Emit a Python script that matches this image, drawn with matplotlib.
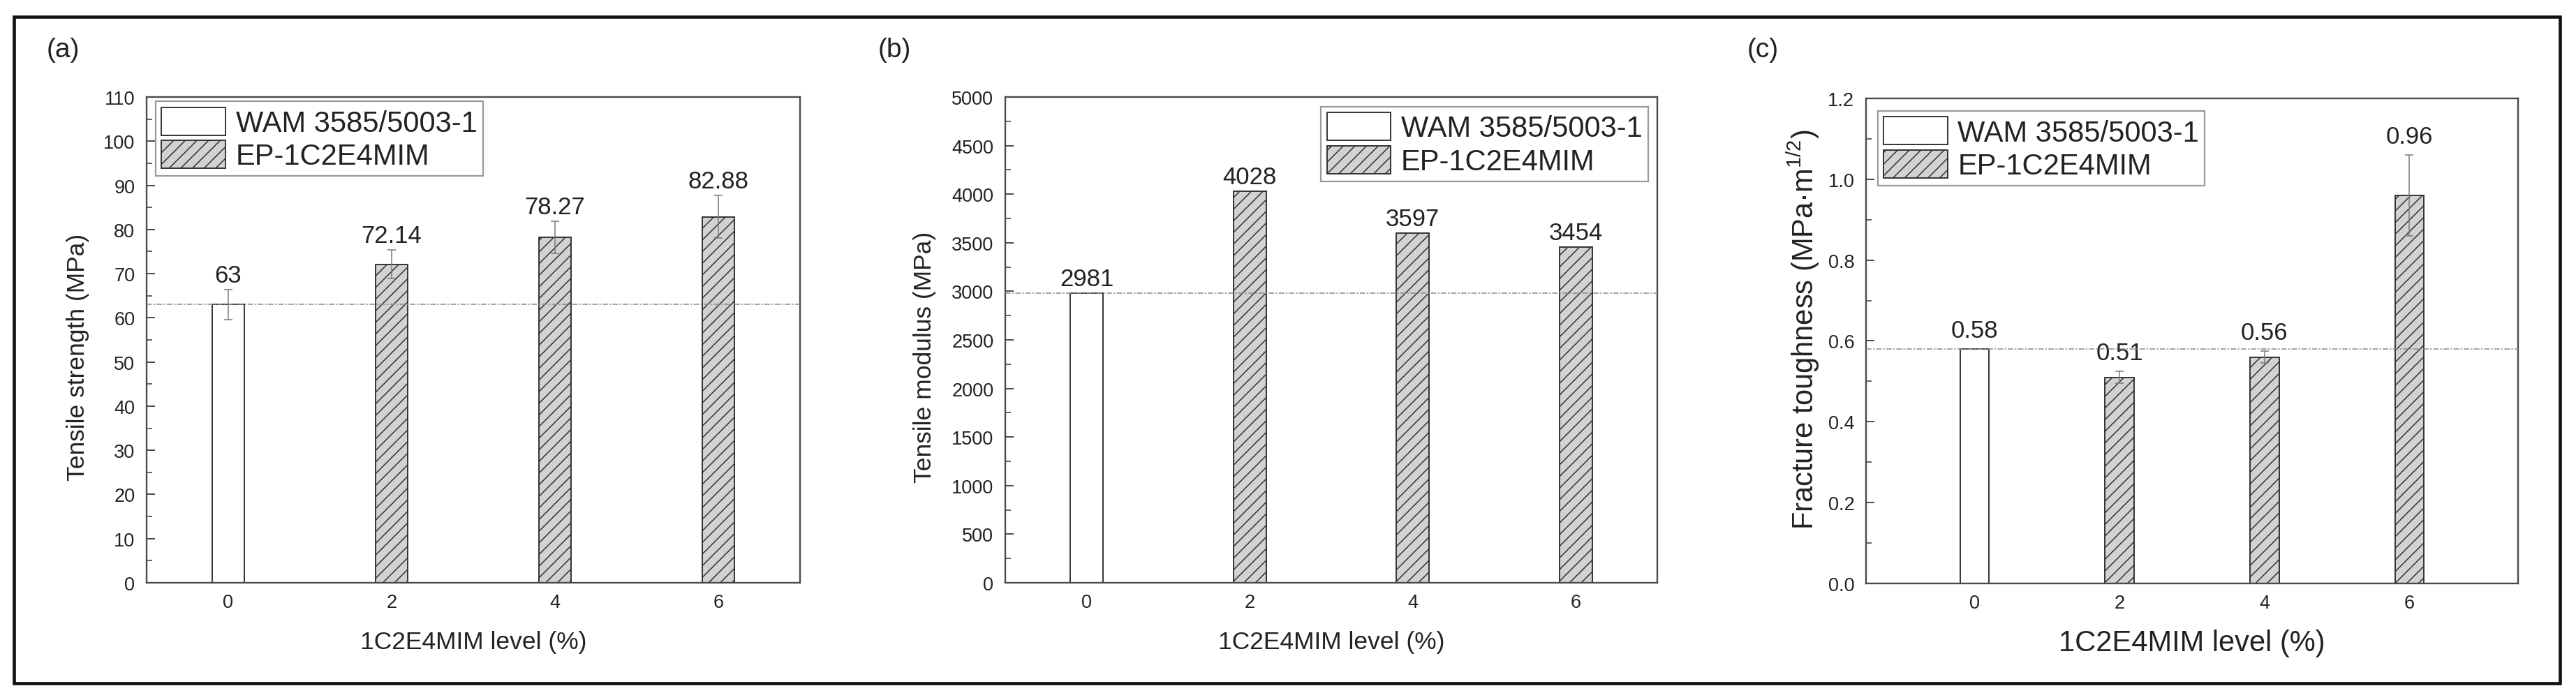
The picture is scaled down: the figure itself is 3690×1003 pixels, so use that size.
import matplotlib
matplotlib.use('Agg')
import matplotlib.pyplot as plt
from matplotlib.patches import Rectangle
from matplotlib.ticker import MultipleLocator

# ---------------- data ----------------
levels = [0, 2, 4, 6]
series_names = ['WAM 3585/5003-1', 'EP-1C2E4MIM']
x_label = '1C2E4MIM level (%)'

tensile_strength = [63, 72.14, 78.27, 82.88]
tensile_strength_err = [3.4, 3.2, 3.6, 4.8]
tensile_strength_labels = ['63', '72.14', '78.27', '82.88']

tensile_modulus = [2981, 4028, 3597, 3454]
tensile_modulus_err = [0, 0, 0, 0]
tensile_modulus_labels = ['2981', '4028', '3597', '3454']

fracture_toughness = [0.58, 0.51, 0.56, 0.96]
fracture_toughness_err = [0, 0.015, 0.015, 0.10]
fracture_toughness_labels = ['0.58', '0.51', '0.56', '0.96']

panel_tags = ['(a)', '(b)', '(c)']
y_labels = ['Tensile strength (MPa)', 'Tensile modulus (MPa)',
            r'Fracture toughness (MPa·m$^{\mathregular{1/2}}$)']

# ---------------- style ----------------
plt.rcParams['font.family'] = ['Liberation Sans', 'DejaVu Sans']
plt.rcParams['mathtext.fontset'] = 'custom'
plt.rcParams['mathtext.rm'] = 'Liberation Sans'
plt.rcParams['hatch.color'] = '#3a3a3a'
plt.rcParams['hatch.linewidth'] = 1.1

W, H = 3690, 1004
fig = plt.figure(figsize=(W / 100, H / 100), dpi=100)


def rect(l, r, t, b):
    return [l / W, 1 - b / H, (r - l) / W, (b - t) / H]


TXT = '#222222'
EDGE = '#333333'
SPINE = '#4a4a4a'


def draw(ax, vals, errs, labels, ylim, major, minor, ylabel, xlim,
         label_size, legend_loc, legend_anchor, lab_off, ylabel_xy, xlabel_xy):
    b0 = ax.bar(levels[:1], vals[:1], width=0.4, color='white',
                edgecolor=EDGE, linewidth=1.4, zorder=2)
    b1 = ax.bar(levels[1:], vals[1:], width=0.4, color='#d2d2d2',
                edgecolor=EDGE, linewidth=1.4, hatch='//', zorder=2)
    ex = [x for x, e in zip(levels, errs) if e > 0]
    ev = [v for v, e in zip(vals, errs) if e > 0]
    ee = [e for e in errs if e > 0]
    if ex:
        ax.errorbar(ex, ev, yerr=ee, fmt='none', ecolor='#7a7a7a',
                    elinewidth=1.1, capsize=4.5, capthick=1.1, zorder=3)
    ax.axhline(vals[0], color='#8a8a8a', lw=1.1,
               ls=(0, (5, 1.5, 1.5, 1.5)), zorder=4)
    for x, v, e, t in zip(levels, vals, errs, labels):
        ax.annotate(t, (x, v + e), xytext=(0, lab_off),
                    textcoords='offset points', ha='center', va='baseline',
                    fontsize=25, color=TXT)
    ax.set_xlim(*xlim)
    ax.set_ylim(*ylim)
    ax.set_xticks(levels)
    ax.set_xticklabels([str(v) for v in levels])
    ax.yaxis.set_major_locator(MultipleLocator(major))
    ax.yaxis.set_minor_locator(MultipleLocator(minor))
    ax.tick_params(axis='y', which='both', direction='in', left=True,
                   right=False, labelsize=19.5, pad=12, colors=SPINE,
                   labelcolor=TXT)
    ax.tick_params(axis='y', which='major', length=8.5, width=1.4)
    ax.tick_params(axis='y', which='minor', length=5.5, width=1.2)
    ax.tick_params(axis='x', which='both', length=0, labelsize=19.5,
                   pad=11, labelcolor=TXT)
    for s in ax.spines.values():
        s.set_color(SPINE)
        s.set_linewidth(1.7)
    ax.set_ylabel(ylabel, fontsize=label_size, color=TXT, va='center')
    ax.yaxis.set_label_coords(*ylabel_xy)
    ax.set_xlabel(x_label, fontsize=label_size, color=TXT, va='center')
    ax.xaxis.set_label_coords(*xlabel_xy)
    leg = ax.legend([b0, b1], series_names, loc=legend_loc,
                    bbox_to_anchor=legend_anchor, borderaxespad=0,
                    fontsize=30, frameon=True, fancybox=False,
                    edgecolor='#9a9a9a', framealpha=1, handlelength=2.2,
                    handleheight=1.1, handletextpad=0.35, borderpad=0.2,
                    labelspacing=0.1)
    leg.get_frame().set_linewidth(1.6)
    leg.set_zorder(6)
    for t in leg.get_texts():
        t.set_color(TXT)


ax_a = fig.add_axes(rect(210, 1146, 140, 836))
draw(ax_a, tensile_strength, tensile_strength_err, tensile_strength_labels,
     (0, 110), 10, 5, y_labels[0], (-1, 7), 25.5,
     'upper left', (0.014, 0.991), 8, (-0.105, 0.466), (0.5, -0.121))

ax_b = fig.add_axes(rect(1440, 2374, 140, 836))
draw(ax_b, tensile_modulus, tensile_modulus_err, tensile_modulus_labels,
     (0, 5000), 500, 250, y_labels[1], (-1, 7), 25.5,
     'upper right', (0.986, 0.980), 8, (-0.124, 0.466), (0.5, -0.121))

ax_c = fig.add_axes(rect(2673, 3607, 142, 837))
draw(ax_c, fracture_toughness, fracture_toughness_err,
     fracture_toughness_labels, (0, 1.2), 0.2, 0.1, y_labels[2],
     (-1.5, 7.5), 30, 'upper left', (0.018, 0.974), 12,
     (-0.096, 0.525), (0.5, -0.122))

# panel tags
for tag, px in zip(panel_tags, [67, 1258, 2503]):
    fig.text(px / W, 1 - 72 / H, tag, ha='left', va='center',
             fontsize=28, color=TXT)

# outer frame
fig.add_artist(Rectangle((20 / W, 1 - 980 / H), (3667 - 20) / W,
                         (980 - 25) / H, transform=fig.transFigure,
                         fill=False, lw=3.3, ec='#111111'))

fig.savefig('out.png', dpi=100)
